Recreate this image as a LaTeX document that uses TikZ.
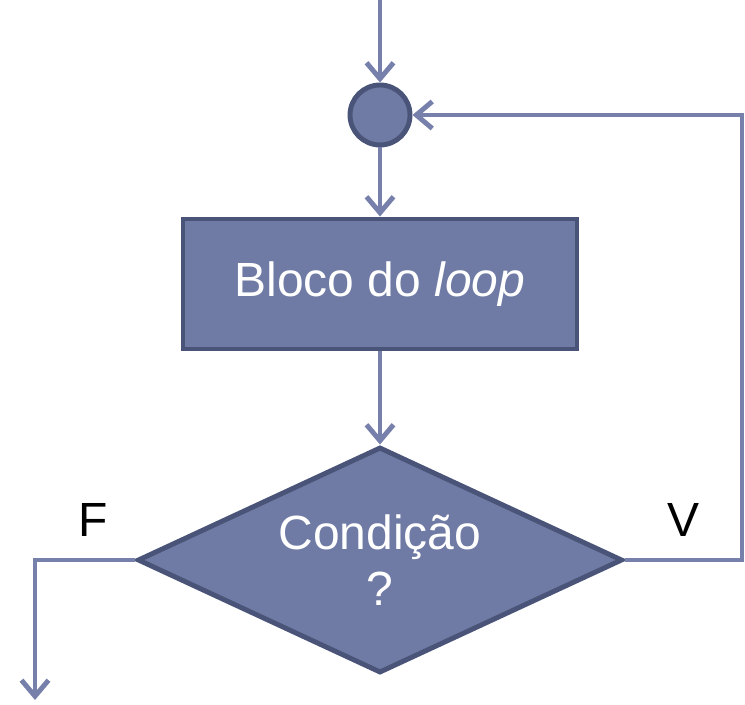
\documentclass[tikz,border=0pt]{standalone}
\usepackage{fontspec}
\setmainfont{Liberation Sans}
\usepackage{tikz}
\usetikzlibrary{arrows.meta}
\usetikzlibrary{shapes.geometric}
\definecolor{azul}{RGB}{111,123,164}
\definecolor{borda}{RGB}{74,84,120}
\definecolor{linha}{RGB}{118,128,170}
\tikzset{f/.style={font=\fontsize{27.3}{32}\selectfont}}
\tikzset{seta/.style={draw=linha,line width=2.8pt,-{Straight Barb[length=3.2mm,width=5.4mm,line width=2.8pt]}}}
\tikzset{bloco/.style={fill=azul,draw=borda,line width=2.8pt,text=white,f}}

\begin{document}
\begin{tikzpicture}
    \useasboundingbox (0,0) rectangle (14.9,14.08);
    \coordinate (in) at (7.6,14.08);
    \node[bloco,circle,minimum size=1.2cm,inner sep=0] (junta) at (7.6,11.78) {};
    \node[bloco,rectangle,minimum width=7.88cm,minimum height=2.6cm] (loop) at (7.6,8.4) {Bloco do \textit{loop}};
    \node[bloco,diamond,aspect=2.15,minimum width=9.7cm,minimum height=4.52cm,inner sep=0,align=center] (cond) at (7.6,2.88) {Condição\\?};
    \coordinate (fcanto) at (0.7,2.88);
    \coordinate (out) at (0.7,0.08);
    \coordinate (vcanto) at (14.84,2.88);
    \coordinate (vtopo) at (14.84,11.78);
    \node[f] (F) at (1.86,3.68) {F};
    \node[f] (V) at (13.66,3.68) {V};
    \draw[seta] (in)--(junta);
    \draw[seta] (junta)--(loop);
    \draw[seta] (loop)--(cond);
    \draw[seta] (cond.west)--(fcanto)--(out);
    \draw[seta] (cond.east)--(vcanto)--(vtopo)--(junta.east);
  \end{tikzpicture}
\end{document}
